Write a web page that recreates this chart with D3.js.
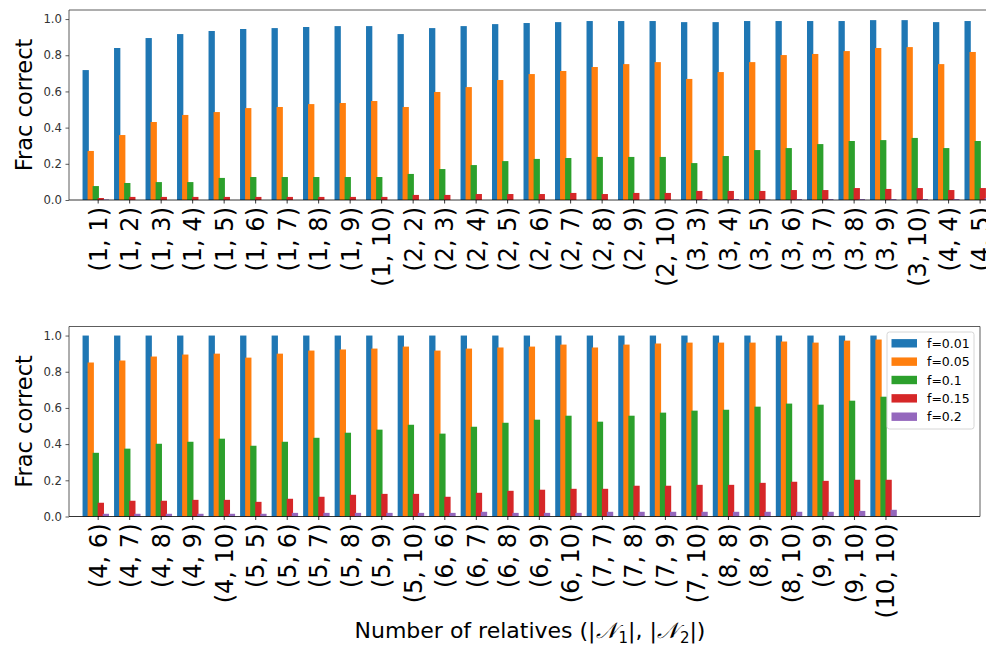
<!DOCTYPE html>
<html>
<head>
<meta charset="utf-8">
<script src="https://cdn.jsdelivr.net/npm/d3@7"></script>
<style>
  body { margin: 0; background: #fff; }
  svg { display: block; font-family: "DejaVu Sans", sans-serif; }
</style>
</head>
<body>
<svg id="chart" width="986" height="649"></svg>
<script>
// pairs (|N1|, |N2|)
const categories = [
  '(1, 1)', '(1, 2)', '(1, 3)', '(1, 4)', '(1, 5)', '(1, 6)', '(1, 7)', '(1, 8)', '(1, 9)', '(1, 10)',
  '(2, 2)', '(2, 3)', '(2, 4)', '(2, 5)', '(2, 6)', '(2, 7)', '(2, 8)', '(2, 9)', '(2, 10)',
  '(3, 3)', '(3, 4)', '(3, 5)', '(3, 6)', '(3, 7)', '(3, 8)', '(3, 9)', '(3, 10)',
  '(4, 4)', '(4, 5)', '(4, 6)', '(4, 7)', '(4, 8)', '(4, 9)', '(4, 10)',
  '(5, 5)', '(5, 6)', '(5, 7)', '(5, 8)', '(5, 9)', '(5, 10)',
  '(6, 6)', '(6, 7)', '(6, 8)', '(6, 9)', '(6, 10)',
  '(7, 7)', '(7, 8)', '(7, 9)', '(7, 10)',
  '(8, 8)', '(8, 9)', '(8, 10)',
  '(9, 9)', '(9, 10)',
  '(10, 10)'
];
const seriesNames = ['f=0.01', 'f=0.05', 'f=0.1', 'f=0.15', 'f=0.2'];
const colors = ['#1f77b4', '#ff7f0e', '#2ca02c', '#d62728', '#9467bd'];

const f001 = [
  0.718, 0.840, 0.895, 0.917, 0.934, 0.945, 0.950, 0.956, 0.961, 0.961,
  0.917, 0.950, 0.961, 0.972, 0.978, 0.983, 0.989, 0.989, 0.989,
  0.983, 0.983, 0.989, 0.989, 0.989, 0.989, 0.994, 0.994,
  0.983, 0.989, 1.0, 1.0, 1.0, 1.0, 1.0,
  1.0, 1.0, 1.0, 1.0, 1.0, 1.0,
  1.0, 1.0, 1.0, 1.0, 1.0,
  1.0, 1.0, 1.0, 1.0,
  1.0, 1.0, 1.0,
  1.0, 1.0,
  1.0
];
const f005 = [
  0.271, 0.359, 0.431, 0.470, 0.486, 0.508, 0.514, 0.530, 0.536, 0.547,
  0.514, 0.597, 0.624, 0.663, 0.696, 0.713, 0.735, 0.751, 0.762,
  0.669, 0.707, 0.762, 0.801, 0.807, 0.823, 0.840, 0.845,
  0.751, 0.818, 0.851, 0.862, 0.884, 0.895, 0.900,
  0.878, 0.900, 0.917, 0.923, 0.928, 0.939,
  0.917, 0.928, 0.934, 0.939, 0.950,
  0.934, 0.950, 0.956, 0.961,
  0.961, 0.961, 0.967,
  0.961, 0.972,
  0.978
];
const f01 = [
  0.077, 0.094, 0.099, 0.099, 0.122, 0.127, 0.127, 0.127, 0.127, 0.127,
  0.144, 0.171, 0.193, 0.215, 0.227, 0.232, 0.238, 0.238, 0.238,
  0.204, 0.243, 0.276, 0.287, 0.309, 0.326, 0.331, 0.343,
  0.287, 0.326, 0.352, 0.375, 0.402, 0.413, 0.430,
  0.391, 0.413, 0.435, 0.463, 0.480, 0.507,
  0.458, 0.496, 0.518, 0.535, 0.557,
  0.524, 0.557, 0.574, 0.585,
  0.590, 0.607, 0.624,
  0.618, 0.640,
  0.662
];
const f015 = [
  0.011, 0.017, 0.017, 0.017, 0.017, 0.017, 0.017, 0.017, 0.017, 0.017,
  0.028, 0.028, 0.033, 0.033, 0.033, 0.039, 0.033, 0.039, 0.039,
  0.050, 0.050, 0.050, 0.055, 0.055, 0.066, 0.061, 0.066,
  0.055, 0.066, 0.076, 0.087, 0.087, 0.092, 0.092,
  0.081, 0.098, 0.109, 0.120, 0.125, 0.125,
  0.109, 0.131, 0.142, 0.148, 0.153,
  0.153, 0.170, 0.170, 0.175,
  0.175, 0.186, 0.192,
  0.197, 0.203,
  0.203
];
const f02 = [
  0.003, 0.0, 0.0, 0.0, 0.0, 0.0, 0.0, 0.0, 0.0, 0.0,
  0.0, 0.0, 0.0, 0.0, 0.0, 0.0, 0.0, 0.0, 0.0,
  0.005, 0.005, 0.002, 0.005, 0.005, 0.005, 0.005, 0.005,
  0.005, 0.011, 0.015, 0.015, 0.015, 0.015, 0.015,
  0.015, 0.020, 0.020, 0.020, 0.020, 0.020,
  0.020, 0.026, 0.020, 0.020, 0.020,
  0.026, 0.026, 0.026, 0.026,
  0.026, 0.026, 0.026,
  0.026, 0.031,
  0.037
];
const yTicks = [0, 0.2, 0.4, 0.6, 0.8, 1.0];
const splitAt = 29;

const series = [f001, f005, f01, f015, f02];
const barOffsets = [-0.38, -0.22, -0.06, 0.10, 0.26];
const barWidth = 0.2;

const svg = d3.select('#chart');

function drawPanel(opts) {
  const cats = categories.slice(opts.from, opts.to);
  const x = d3.scaleLinear().domain(opts.xDomain).range([opts.left, opts.right]);
  const y = d3.scaleLinear().domain([0, 1.05]).range([opts.bottom, opts.top]);
  const g = svg.append('g');

  // bars
  series.forEach((vals, s) => {
    g.append('g')
      .selectAll('rect')
      .data(vals.slice(opts.from, opts.to))
      .join('rect')
      .attr('x', (d, i) => x(i + barOffsets[s] - barWidth / 2))
      .attr('width', x(barWidth) - x(0))
      .attr('y', (d) => y(d))
      .attr('height', (d) => y(0) - y(d))
      .attr('fill', colors[s]);
  });

  // y axis
  const yAxis = d3.axisLeft(y).tickValues(yTicks).tickFormat(d3.format('.1f')).tickSize(3.5).tickPadding(3.5);
  const ya = g.append('g').attr('transform', `translate(${opts.left},0)`).call(yAxis);
  ya.select('.domain').remove();
  ya.selectAll('text').attr('font-size', 11.7).attr('fill', '#333').attr('font-family', 'DejaVu Sans');
  ya.selectAll('line').attr('stroke', '#333').attr('stroke-width', 0.8);

  // x axis
  const xAxis = d3.axisBottom(x).tickValues(d3.range(cats.length)).tickFormat((i) => cats[i]).tickSize(3.5).tickPadding(3.5);
  const xa = g.append('g').attr('transform', `translate(0,${opts.bottom})`).call(xAxis);
  xa.select('.domain').remove();
  xa.selectAll('line').attr('stroke', '#000').attr('stroke-width', 0.8);
  xa.selectAll('text')
    .attr('font-size', 24)
    .attr('font-family', 'DejaVu Sans')
    .attr('fill', '#000')
    .attr('text-anchor', 'end')
    .attr('transform', 'rotate(-90)')
    .attr('x', -7)
    .attr('y', 0)
    .attr('dy', '0.35em');

  // spines
  const sp = g.append('g').attr('fill', 'none').attr('stroke-width', 0.8);
  sp.append('line').attr('x1', opts.left).attr('x2', opts.right).attr('y1', opts.bottom).attr('y2', opts.bottom).attr('stroke', '#000');
  sp.append('line').attr('x1', opts.left).attr('x2', opts.right).attr('y1', opts.top).attr('y2', opts.top).attr('stroke', '#333');
  sp.append('line').attr('x1', opts.left).attr('x2', opts.left).attr('y1', opts.top).attr('y2', opts.bottom).attr('stroke', '#333');
  sp.append('line').attr('x1', opts.right).attr('x2', opts.right).attr('y1', opts.top).attr('y2', opts.bottom).attr('stroke', '#333');

  // y label
  g.append('text')
    .attr('transform', `translate(32,${(opts.top + opts.bottom) / 2}) rotate(-90)`)
    .attr('text-anchor', 'middle')
    .attr('font-size', 22.5)
    .attr('fill', '#000')
    .text('Frac correct');

  return { x, y, g };
}

// top panel runs past the picture edge
drawPanel({ from: 0, to: splitAt, xDomain: [-0.91, 29.6], left: 69, right: 1030, top: 10, bottom: 200 });
drawPanel({ from: splitAt, to: categories.length, xDomain: [-0.91, 28.0], left: 69, right: 980, top: 326.5, bottom: 516.5 });

// legend
const lg = svg.append('g').attr('transform', 'translate(887,332)');
lg.append('rect').attr('width', 87).attr('height', 97).attr('rx', 2.5)
  .attr('fill', '#fff').attr('fill-opacity', 0.8).attr('stroke', '#ccc').attr('stroke-width', 0.8);
seriesNames.forEach((name, i) => {
  const row = lg.append('g').attr('transform', `translate(0,${11.3 + i * 18.35})`);
  row.append('rect').attr('x', 4.5).attr('y', -4.2).attr('width', 25.5).attr('height', 8.4).attr('fill', colors[i]);
  row.append('text').attr('x', 40).attr('dy', '0.36em').attr('font-size', 12.5).attr('fill', '#000').text(name);
});

// x label
svg.append('text')
  .attr('x', 530)
  .attr('y', 638)
  .attr('text-anchor', 'middle')
  .attr('font-size', 22)
  .attr('fill', '#000')
  .html('Number of relatives (|<tspan font-style="italic" font-family="DejaVu Serif">𝒩</tspan><tspan font-size="15" dx="2" dy="5">1</tspan><tspan dy="-5">|, |</tspan><tspan font-style="italic" font-family="DejaVu Serif">𝒩</tspan><tspan font-size="15" dx="2" dy="5">2</tspan><tspan dy="-5">|)</tspan>');
</script>
</body>
</html>
